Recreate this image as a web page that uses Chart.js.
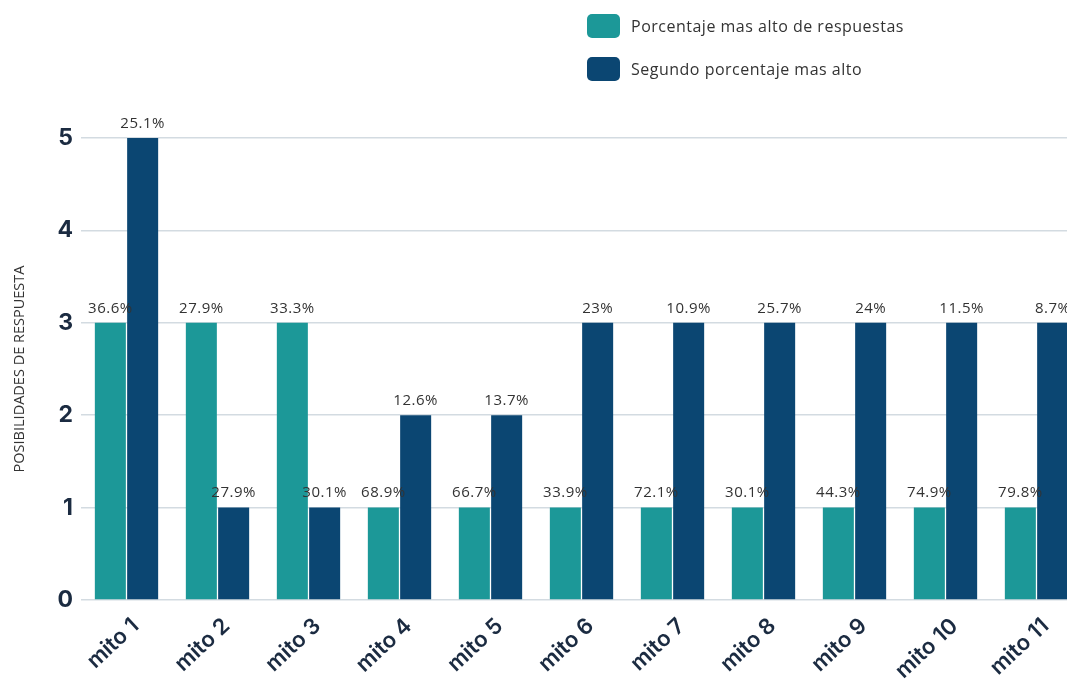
<!DOCTYPE html>
<html lang="es">
<head>
<meta charset="UTF-8">
<meta name="viewport" content="width=device-width, initial-scale=1.0">
<title>Mitos - posibilidades de respuesta</title>
<style>
  html, body { margin: 0; padding: 0; background: #fff; overflow: hidden; }
  #wrap { position: relative; width: 1085px; height: 679px; }
  #legend { position: absolute; left: 587px; top: 14px; font: 16px "Open Sans", sans-serif; letter-spacing: 0.5px; color: #333; }
  .item { display: flex; align-items: center; height: 24px; margin-bottom: 19px; }
  .box { width: 33px; height: 24px; border-radius: 5px; margin-right: 11px; }
</style>
</head>
<body>
<div id="wrap">
  <canvas id="mitosChart"></canvas>
  <div id="legend"></div>
</div>

<script src="https://cdn.jsdelivr.net/npm/chart.js"></script>
<script>
const categories = ['mito 1', 'mito 2', 'mito 3', 'mito 4', 'mito 5', 'mito 6', 'mito 7', 'mito 8', 'mito 9', 'mito 10', 'mito 11'];
const seriesNames = ['Porcentaje mas alto de respuestas', 'Segundo porcentaje mas alto'];
const topValues = [3, 3, 3, 1, 1, 1, 1, 1, 1, 1, 1];
const secondValues = [5, 1, 1, 2, 2, 3, 3, 3, 3, 3, 3];
const topLabels = ['36.6%', '27.9%', '33.3%', '68.9%', '66.7%', '33.9%', '72.1%', '30.1%', '44.3%', '74.9%', '79.8%'];
const secondLabels = ['25.1%', '27.9%', '30.1%', '12.6%', '13.7%', '23%', '10.9%', '25.7%', '24%', '11.5%', '8.7%'];
const yTicks = [0, 1, 2, 3, 4, 5];

const TEAL = '#1c9898';
const NAVY = '#0b4672';
const INK = '#1b2b41';

// percentages written above each bar
const barLabels = {
  id: 'barLabels',
  afterDatasetsDraw(chart) {
    const ctx = chart.ctx;
    const texts = [topLabels, secondLabels];
    ctx.save();
    ctx.font = '15px "Open Sans", sans-serif';
    ctx.letterSpacing = '0.5px';
    ctx.fillStyle = '#333';
    ctx.textAlign = 'center';
    ctx.textBaseline = 'bottom';
    chart.data.datasets.forEach((ds, di) => {
      chart.getDatasetMeta(di).data.forEach((bar, i) => {
        ctx.fillText(texts[di][i], bar.x, bar.y - 7);
      });
    });
    ctx.restore();
  }
};

const chart = new Chart(document.getElementById('mitosChart'), {
  type: 'bar',
  data: {
    labels: categories,
    datasets: [
      { label: seriesNames[0], data: topValues, backgroundColor: TEAL },
      { label: seriesNames[1], data: secondValues, backgroundColor: NAVY }
    ]
  },
  options: {
    responsive: true,
    maintainAspectRatio: false,
    animation: false,
    categoryPercentage: 0.71,
    barPercentage: 0.96,
    layout: { padding: { top: 138, bottom: 0, right: 3, left: 0 } },
    plugins: {
      legend: { display: false },
      tooltip: { enabled: false }
    },
    scales: {
      x: {
        grid: { display: false },
        border: { display: false },
        afterFit(scale) {
          scale.height = 79;
        },
        ticks: {
          color: INK,
          font: { family: 'Inter', size: 22, weight: '600' },
          maxRotation: 43,
          minRotation: 43,
          padding: 5,
          labelOffset: 9
        }
      },
      y: {
        min: 0,
        max: 5,
        afterBuildTicks(scale) {
          scale.ticks = yTicks.map(v => ({ value: v }));
        },
        afterFit(scale) {
          scale.width = 81;
        },
        border: { display: false },
        grid: { color: '#d3dbe1', lineWidth: 1.5, drawTicks: false },
        ticks: {
          color: INK,
          padding: 8,
          font: { family: 'Inter', size: 23, weight: '700' }
        },
        title: {
          display: true,
          text: 'POSIBILIDADES DE RESPUESTA',
          color: '#333',
          font: { family: 'Open Sans', size: 14.5 },
          padding: { top: 11, bottom: 0 }
        }
      }
    }
  },
  plugins: [barLabels]
});

// legend built from the chart's own datasets
const legendEl = document.getElementById('legend');
chart.data.datasets.forEach(ds => {
  const item = document.createElement('div');
  item.className = 'item';
  const box = document.createElement('span');
  box.className = 'box';
  box.style.background = ds.backgroundColor;
  const txt = document.createElement('span');
  txt.textContent = ds.label;
  item.appendChild(box);
  item.appendChild(txt);
  legendEl.appendChild(item);
});
</script>
</body>
</html>
